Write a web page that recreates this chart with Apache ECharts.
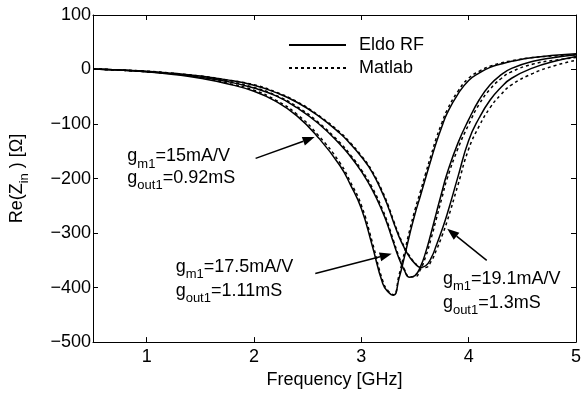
<!DOCTYPE html>
<html>
<head>
<meta charset="utf-8">
<script src="https://cdn.jsdelivr.net/npm/echarts@6/dist/echarts.min.js"></script>
<style>
  html, body { margin: 0; padding: 0; background: #fff; }
  #chart { width: 584px; height: 394px; }
</style>
</head>
<body>
<div id="chart"></div>
<script>
// frequency grid (GHz)
const freq = [0.5, 0.75, 1, 1.25, 1.5, 1.75, 2, 2.2, 2.4, 2.6, 2.8, 2.9, 3, 3.1, 3.2, 3.25, 3.3, 3.35,
  3.4, 3.45, 3.5, 3.55, 3.6, 3.65, 3.7, 3.75, 3.8, 3.9, 4, 4.1, 4.2, 4.3, 4.4, 4.6, 4.8, 5];

// Re(Zin) in ohm
const eldo1 = [1, -1, -4, -9, -16, -26, -40, -58, -85, -125, -176, -212, -255, -322, -393, -408, -414, -384,
  -345, -303, -265, -232, -198, -165, -133, -105, -80, -45, -20, -6, 4, 10, 15, 22, 26, 29];
const matlab1 = [1, -1, -4, -8, -15, -25, -38, -56, -82, -121, -171, -207, -249, -315, -388, -406, -413, -378,
  -337, -295, -257, -224, -190, -157, -125, -98, -74, -40, -16, -3, 6, 12, 16, 22, 25, 27];

const eldo2 = [1, -1, -4, -8, -14, -22, -34, -48, -70, -99, -137, -160, -187, -220, -262, -288, -318, -346,
  -368, -381, -378, -362, -335, -300, -262, -225, -190, -135, -92, -55, -28, -10, 2, 15, 22, 27];
const matlab2 = [1, -1, -4, -8, -13, -21, -33, -47, -68, -97, -134, -157, -184, -216, -258, -284, -314, -343,
  -366, -380, -380, -367, -343, -310, -273, -236, -200, -145, -101, -63, -36, -17, -4, 10, 17, 22];

const eldo3 = [1, -1, -3, -7, -12, -19, -29, -42, -60, -85, -117, -137, -160, -188, -228, -252, -280, -306,
  -327, -344, -356, -363, -360, -346, -322, -295, -265, -197, -130, -88, -56, -33, -16, 3, 15, 24];
const matlab3 = [1, -1, -3, -7, -12, -19, -28, -41, -59, -84, -115, -135, -158, -186, -225, -249, -277, -303,
  -325, -342, -355, -363, -363, -352, -331, -306, -278, -212, -146, -103, -70, -46, -28, -7, 7, 17];

const xTicks = [1, 2, 3, 4, 5];
const yTicks = [-500, -400, -300, -200, -100, 0, 100];

const labelsGm = ['15mA/V', '17.5mA/V', '19.1mA/V'];
const labelsGout = ['0.92mS', '1.11mS', '1.3mS'];

// annotation layout, in data units
const notePos = [[0.82, -164, -204], [1.27, -366, -410], [3.76, -389, -433]];
const arrows = [
  [[2.015, -163], [2.565, -124]],
  [[2.571, -374], [3.283, -338]],
  [[4.168, -350], [3.80, -292]]
];

const FONT = 'Liberation Sans';
const FS = 18;
const chart = echarts.init(document.getElementById('chart'), null, { renderer: 'canvas' });

const pairs = ys => freq.map((f, i) => [f, ys[i]]);
const minus = v => String(v).replace('-', '\u2212');
const rich = {
  n: { fontFamily: FONT, fontSize: FS, color: '#000', verticalAlign: 'top' },
  s: { fontFamily: FONT, fontSize: 13, color: '#000', verticalAlign: 'top', padding: [10, 0, 0, 0] }
};

const mkSeries = (name, ys, dashed) => ({
  name,
  type: 'line',
  data: pairs(ys),
  showSymbol: false,
  symbol: 'none',
  smooth: 0.5,
  lineStyle: { color: '#000', width: 1.5, type: dashed ? [3, 3] : 'solid' },
  itemStyle: { color: '#000' },
  animation: false,
  z: dashed ? 3 : 2
});

const axisCommon = {
  axisLine: { show: true, onZero: false, lineStyle: { color: '#000', width: 1 } },
  splitLine: { show: false },
  axisTick: { inside: true, length: 5, lineStyle: { color: '#000' } }
};

const option = {
  backgroundColor: '#fff',
  animation: false,
  textStyle: { fontFamily: FONT },
  grid: { left: 87, right: 4, top: 15, bottom: 48 },
  legend: {
    data: ['Eldo RF', 'Matlab'],
    orient: 'vertical',
    left: 283,
    top: 31,
    itemWidth: 57,
    itemHeight: 14,
    itemGap: 5,
    itemStyle: { opacity: 0 },
    textStyle: { fontFamily: FONT, fontSize: FS, color: '#000', padding: [0, 0, 0, 8] }
  },
  xAxis: [
    Object.assign({}, axisCommon, {
      type: 'value', min: 0.5, max: 5,
      name: 'Frequency [GHz]', nameLocation: 'middle', nameGap: 28,
      nameTextStyle: { fontFamily: FONT, fontSize: FS, color: '#000' },
      axisTick: Object.assign({}, axisCommon.axisTick, { customValues: xTicks }),
      axisLabel: { customValues: xTicks, fontFamily: FONT, fontSize: FS, color: '#000', margin: 6 }
    }),
    Object.assign({}, axisCommon, {
      type: 'value', min: 0.5, max: 5, position: 'top',
      axisTick: Object.assign({}, axisCommon.axisTick, { customValues: xTicks }),
      axisLabel: { show: false }
    })
  ],
  yAxis: [
    Object.assign({}, axisCommon, {
      type: 'value', min: -500, max: 100, interval: 100,
      name: '{n|Re(Z}{s|in}{n| ) [Ω]}', nameLocation: 'middle', nameGap: 62, nameRotate: 90,
      nameTextStyle: { rich },
      axisTick: Object.assign({}, axisCommon.axisTick, { customValues: yTicks }),
      axisLabel: { customValues: yTicks, fontFamily: FONT, fontSize: FS, color: '#000', margin: 2, formatter: minus }
    }),
    Object.assign({}, axisCommon, {
      type: 'value', min: -500, max: 100, interval: 100, position: 'right',
      axisTick: Object.assign({}, axisCommon.axisTick, { customValues: yTicks }),
      axisLabel: { show: false }
    })
  ],
  series: [
    mkSeries('Eldo RF', eldo1, false),
    mkSeries('Matlab', matlab1, true),
    mkSeries('Eldo RF', eldo2, false),
    mkSeries('Matlab', matlab2, true),
    mkSeries('Eldo RF', eldo3, false),
    mkSeries('Matlab', matlab3, true)
  ]
};

chart.setOption(option);

// annotations: texts and arrows placed through the axes
const px = p => chart.convertToPixel({ xAxisIndex: 0, yAxisIndex: 0 }, p);
const graphics = [];
notePos.forEach((pos, i) => {
  const a = px([pos[0], pos[1]]);
  const b = px([pos[0], pos[2]]);
  graphics.push({
    type: 'text', x: a[0], y: a[1],
    style: { text: '{n|g}{s|m1}{n|=' + labelsGm[i] + '}', rich, verticalAlign: 'middle' }
  });
  graphics.push({
    type: 'text', x: b[0], y: b[1],
    style: { text: '{n|g}{s|out1}{n|=' + labelsGout[i] + '}', rich, verticalAlign: 'middle' }
  });
});
arrows.forEach(([tail, head]) => {
  const t = px(tail);
  const h = px(head);
  const dx = h[0] - t[0];
  const dy = h[1] - t[1];
  const len = Math.sqrt(dx * dx + dy * dy);
  const ux = dx / len;
  const uy = dy / len;
  const hl = 12;
  const hw = 4.5;
  const bx = h[0] - ux * hl;
  const by = h[1] - uy * hl;
  graphics.push({
    type: 'line',
    shape: { x1: t[0], y1: t[1], x2: bx, y2: by },
    style: { stroke: '#000', lineWidth: 1.5 }
  });
  graphics.push({
    type: 'polygon',
    shape: { points: [[h[0], h[1]], [bx - uy * hw, by + ux * hw], [bx + uy * hw, by - ux * hw]] },
    style: { fill: '#000' }
  });
});
chart.setOption({ graphic: graphics });

window.addEventListener('resize', () => chart.resize());
</script>
</body>
</html>
